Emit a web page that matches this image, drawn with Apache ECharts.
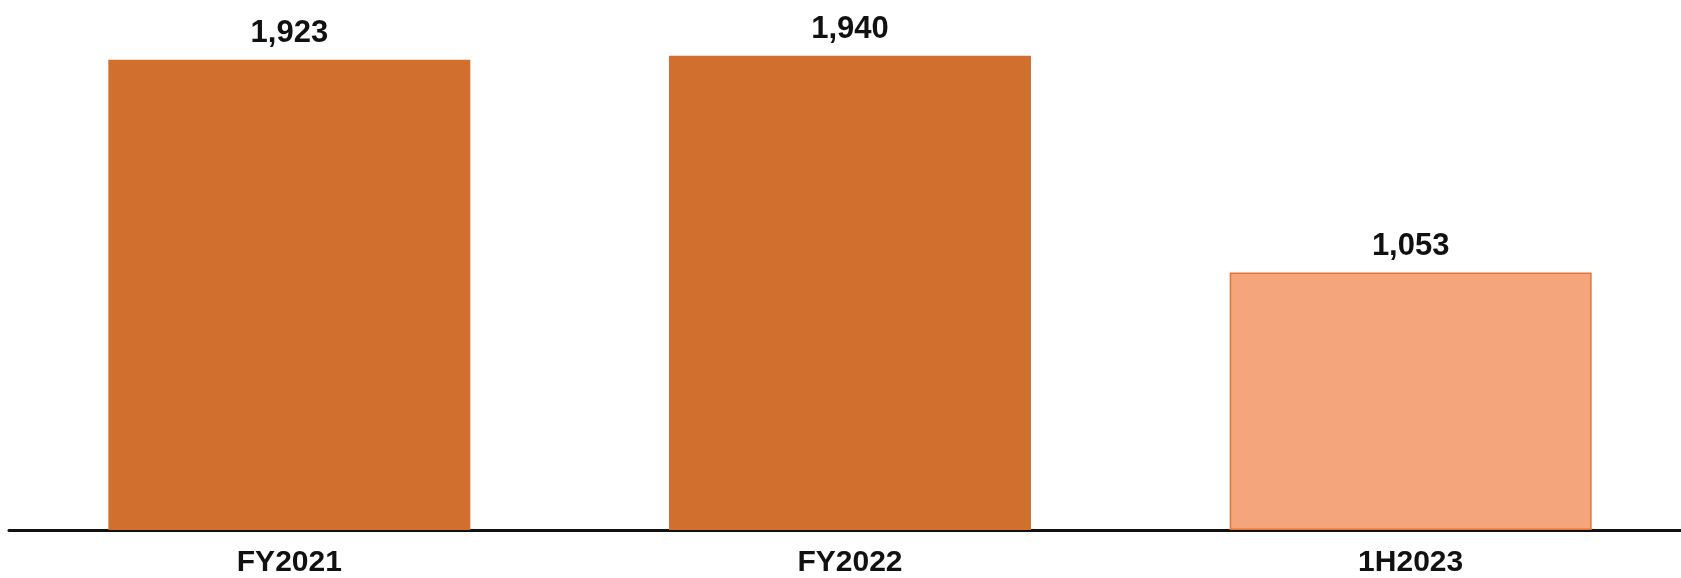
<!DOCTYPE html>
<html>
<head>
<meta charset="utf-8">
<script src="https://cdn.jsdelivr.net/npm/echarts@6/dist/echarts.min.js"></script>
<style>
  html, body { margin: 0; padding: 0; background: #ffffff; overflow: hidden; }
  /* the drawing surface runs a few pixels past the right edge of the page,
     so the axis line bleeds off and the three bands stay evenly spaced */
  #chart { width: 1691px; height: 578px; }
</style>
</head>
<body>
<div id="chart"></div>
<script>
// Periods shown on the category axis
const categories = ['FY2021', 'FY2022', '1H2023'];
// Reported values per period
const values = [1923, 1940, 1053];
// The half-year period is drawn in a lighter shade
const partialPeriod = [false, false, true];

const FULL_COLOR = '#D06F2E';
const PARTIAL_COLOR = '#F5A57B';
const PARTIAL_BORDER = '#E47532';
const TEXT_COLOR = '#111111';
const FONT = '"Liberation Sans", Arial, sans-serif';

const chart = echarts.init(document.getElementById('chart'), null, { renderer: 'canvas' });

chart.setOption({
  animation: false,
  backgroundColor: '#ffffff',
  grid: { left: 9, right: 0, top: 41, height: 492, containLabel: false },
  xAxis: {
    type: 'category',
    data: categories,
    axisLine: { show: true, lineStyle: { color: '#111111', width: 3 } },
    axisTick: { show: false },
    axisLabel: {
      color: TEXT_COLOR,
      fontFamily: FONT,
      fontWeight: 'bold',
      fontSize: 30,
      margin: 18
    }
  },
  yAxis: {
    type: 'value',
    min: 0,
    max: 2000,
    show: false,
    splitLine: { show: false }
  },
  series: [{
    type: 'bar',
    barWidth: 362,
    data: values.map((v, i) => ({
      value: v,
      itemStyle: {
        color: partialPeriod[i] ? PARTIAL_COLOR : FULL_COLOR,
        borderColor: partialPeriod[i] ? PARTIAL_BORDER : FULL_COLOR,
        borderWidth: partialPeriod[i] ? 1.5 : 0
      }
    })),
    label: {
      show: true,
      position: 'top',
      distance: 11,
      color: TEXT_COLOR,
      fontFamily: FONT,
      fontWeight: 'bold',
      fontSize: 31,
      formatter: (p) => p.value.toLocaleString('en-US')
    }
  }]
});
</script>
</body>
</html>
